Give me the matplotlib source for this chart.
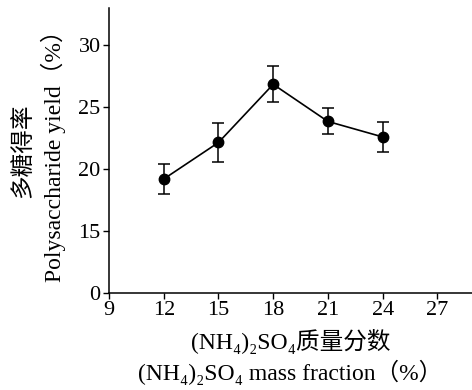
import numpy as np
import matplotlib
matplotlib.use('Agg')
import matplotlib.pyplot as plt

plt.rcParams['font.family'] = ['Liberation Serif', 'Noto Sans CJK SC', 'DejaVu Sans']

# data
conc = [12, 15, 18, 21, 24]
yield_pct = [19.2, 22.15, 26.85, 23.85, 22.6]
yield_err = [1.2, 1.6, 1.45, 1.05, 1.18]

xticks = [9, 12, 15, 18, 21, 24, 27]
# broken y axis: the "0" label sits where 10 would be
yticks = [10, 15, 20, 25, 30]
ytick_labels = ['0', '15', '20', '25', '30']

fig = plt.figure(figsize=(4.72, 3.9), dpi=100)
ax = fig.add_axes([0.231, 0.249, 0.769, 0.73])

ax.errorbar(conc, yield_pct, yerr=yield_err, fmt='-o', color='black',
            markersize=7.5, linewidth=1.2, elinewidth=1.1, capsize=4, capthick=1.1)

ax.set_xlim(9, 28.9)
ax.set_ylim(10, 33)
ax.set_xticks(xticks)
ax.set_yticks(yticks)
ax.set_yticklabels(ytick_labels)
ax.tick_params(labelsize=16, direction='out', length=4, width=1, pad=2)

for side in ['top', 'right']:
    ax.spines[side].set_visible(False)
for side in ['left', 'bottom']:
    ax.spines[side].set_linewidth(1.1)

ax.set_xlabel('(NH₄)₂SO₄质量分数\n(NH₄)₂SO₄ mass fraction（%）',
              fontsize=17, linespacing=1.3, labelpad=6)
ax.set_ylabel('多糖得率\nPolysaccharide yield（%）', fontsize=17,
              linespacing=1.3, labelpad=9)

fig.savefig('out.png', dpi=100)
